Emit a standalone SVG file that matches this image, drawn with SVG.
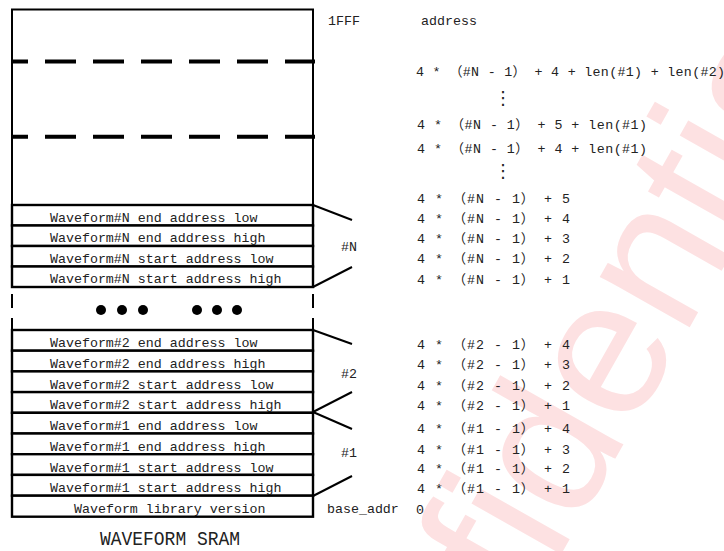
<svg xmlns="http://www.w3.org/2000/svg" width="724" height="551" viewBox="0 0 724 551">
<style>
.wm{font-family:"Liberation Sans",Arial,sans-serif;font-size:195px;fill:#fde1e2}
.box{fill:none;stroke:#000;stroke-width:2}
.row{fill:#fff;stroke:#000;stroke-width:2.4}
.t{font-family:"Liberation Mono","Noto Sans CJK SC",monospace;font-size:13.3px;fill:#222}
.f{font-family:"Liberation Mono","Noto Sans CJK SC",monospace;font-size:13.3px;fill:#222}
.dash{stroke:#000;stroke-width:4;stroke-dasharray:31 17;stroke-dashoffset:14}
.con{stroke:#000;stroke-width:2;fill:none}
.vd{font-family:"DejaVu Sans",sans-serif;font-size:18px;fill:#222}
</style>
<rect width="724" height="551" fill="#fff"/>
<text class="wm" transform="translate(352,924) rotate(-60.5)">Confidential</text>

<g id="sram-top">
<rect class="box" x="12" y="9.5" width="301" height="195.5"/>
<line class="dash" x1="11" y1="61.5" x2="315" y2="61.5"/>
<line class="dash" x1="11" y1="136.7" x2="315" y2="136.7"/>
</g>

<g id="rowN4"><rect class="row" x="12" y="205" width="301" height="20.5"/><text class="t" x="50" y="221.5">Waveform#N end address low</text></g>
<g id="rowN3"><rect class="row" x="12" y="225.5" width="301" height="20.5"/><text class="t" x="50" y="242">Waveform#N end address high</text></g>
<g id="rowN2"><rect class="row" x="12" y="246" width="301" height="20.5"/><text class="t" x="50" y="262.5">Waveform#N start address low</text></g>
<g id="rowN1"><rect class="row" x="12" y="266.5" width="301" height="20.5"/><text class="t" x="50" y="283">Waveform#N start address high</text></g>

<g id="ellipsis">
<line class="con" x1="12" y1="294" x2="12" y2="308"/>
<line class="con" x1="313" y1="294" x2="313" y2="308"/>
<line class="con" x1="12" y1="318" x2="12" y2="330"/>
<line class="con" x1="313" y1="318" x2="313" y2="330"/>
<circle cx="101" cy="310" r="5"/><circle cx="122" cy="310" r="5"/><circle cx="143" cy="310" r="5"/>
<circle cx="197" cy="310" r="5"/><circle cx="217" cy="310" r="5"/><circle cx="237" cy="310" r="5"/>
</g>

<g id="row24"><rect class="row" x="12" y="330" width="301" height="20.7"/><text class="t" x="50" y="347.3">Waveform#2 end address low</text></g>
<g id="row23"><rect class="row" x="12" y="350.7" width="301" height="20.7"/><text class="t" x="50" y="368">Waveform#2 end address high</text></g>
<g id="row22"><rect class="row" x="12" y="371.4" width="301" height="20.7"/><text class="t" x="50" y="388.7">Waveform#2 start address low</text></g>
<g id="row21"><rect class="row" x="12" y="392.1" width="301" height="20.7"/><text class="t" x="50" y="409.4">Waveform#2 start address high</text></g>
<g id="row14"><rect class="row" x="12" y="412.8" width="301" height="20.7"/><text class="t" x="50" y="430.1">Waveform#1 end address low</text></g>
<g id="row13"><rect class="row" x="12" y="433.5" width="301" height="20.7"/><text class="t" x="50" y="450.8">Waveform#1 end address high</text></g>
<g id="row12"><rect class="row" x="12" y="454.2" width="301" height="20.7"/><text class="t" x="50" y="471.5">Waveform#1 start address low</text></g>
<g id="row11"><rect class="row" x="12" y="474.9" width="301" height="20.8"/><text class="t" x="50" y="492.2">Waveform#1 start address high</text></g>
<g id="row0"><rect class="row" x="12" y="495.7" width="301" height="21"/><text class="t" x="74" y="513">Waveform library version</text></g>

<g id="connectors">
<line class="con" x1="313" y1="205" x2="352" y2="220"/>
<line class="con" x1="313" y1="287" x2="352" y2="267"/>
<line class="con" x1="313" y1="330" x2="352" y2="344"/>
<line class="con" x1="313" y1="412" x2="352" y2="392"/>
<line class="con" x1="313" y1="412" x2="352" y2="429"/>
<line class="con" x1="313" y1="496" x2="352" y2="476"/>
</g>

<g id="labels">
<text class="t" x="328" y="25">1FFF</text>
<text class="t" x="421" y="25">address</text>
<text class="t" x="341" y="251">#N</text>
<text class="t" x="341" y="378">#2</text>
<text class="t" x="341" y="456.5">#1</text>
<text class="t" x="327" y="513">base_addr</text>
<text class="t" x="416" y="514">0</text>
<text x="100" y="545" font-family="Liberation Mono,monospace" font-size="20" fill="#222" textLength="140" lengthAdjust="spacingAndGlyphs">WAVEFORM SRAM</text>
</g>

<g id="addresses">
<text class="f" x="416" y="76" textLength="309" lengthAdjust="spacing">4 * （#N - 1） + 4 + len(#1) + len(#2)</text>
<text class="vd" x="494" y="104">⋮</text>
<text class="f" x="417" y="129" textLength="230" lengthAdjust="spacing">4 * （#N - 1） + 5 + len(#1)</text>
<text class="f" x="417" y="152.5" textLength="230" lengthAdjust="spacing">4 * （#N - 1） + 4 + len(#1)</text>
<text class="vd" x="494" y="177">⋮</text>
<text class="f" x="417" y="202.7" textLength="153" lengthAdjust="spacing">4 * （#N - 1） + 5</text>
<text class="f" x="417" y="223.3" textLength="153" lengthAdjust="spacing">4 * （#N - 1） + 4</text>
<text class="f" x="417" y="243.3" textLength="153" lengthAdjust="spacing">4 * （#N - 1） + 3</text>
<text class="f" x="417" y="263.3" textLength="153" lengthAdjust="spacing">4 * （#N - 1） + 2</text>
<text class="f" x="417" y="284" textLength="153" lengthAdjust="spacing">4 * （#N - 1） + 1</text>
<text class="f" x="417" y="349.3" textLength="153" lengthAdjust="spacing">4 * （#2 - 1） + 4</text>
<text class="f" x="417" y="369.3" textLength="153" lengthAdjust="spacing">4 * （#2 - 1） + 3</text>
<text class="f" x="417" y="390" textLength="153" lengthAdjust="spacing">4 * （#2 - 1） + 2</text>
<text class="f" x="417" y="410" textLength="153" lengthAdjust="spacing">4 * （#2 - 1） + 1</text>
<text class="f" x="417" y="433.3" textLength="153" lengthAdjust="spacing">4 * （#1 - 1） + 4</text>
<text class="f" x="417" y="454" textLength="153" lengthAdjust="spacing">4 * （#1 - 1） + 3</text>
<text class="f" x="417" y="473.3" textLength="153" lengthAdjust="spacing">4 * （#1 - 1） + 2</text>
<text class="f" x="417" y="493.3" textLength="153" lengthAdjust="spacing">4 * （#1 - 1） + 1</text>
</g>
</svg>
